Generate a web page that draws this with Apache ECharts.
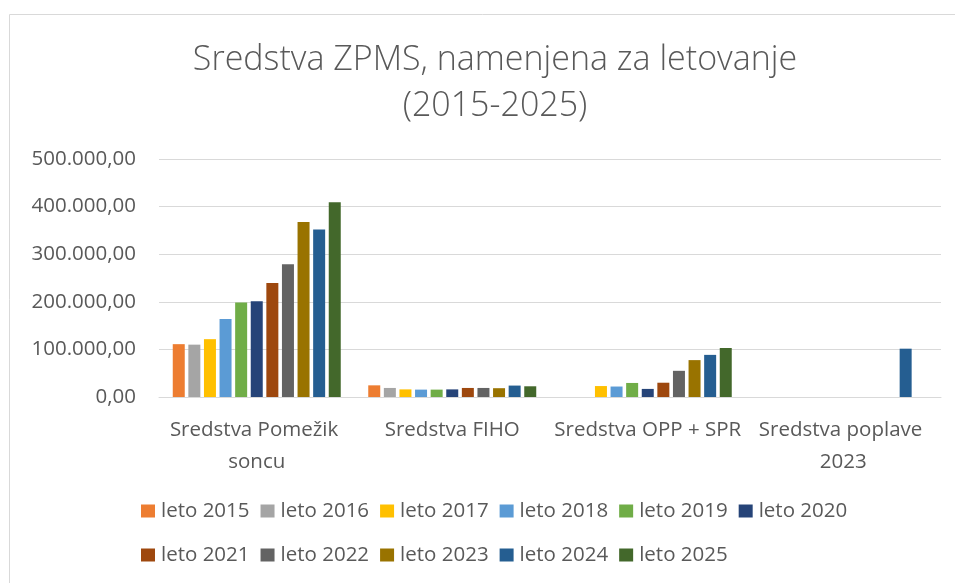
<!DOCTYPE html>
<html>
<head>
<meta charset="utf-8">
<script src="https://cdn.jsdelivr.net/npm/echarts@6/dist/echarts.min.js"></script>
<style>
  html, body { margin: 0; padding: 0; background: #fff; }
  #chart { width: 955px; height: 583px; }
</style>
</head>
<body>
<div id="chart"></div>
<script>
// categories + years
const categories = ['Sredstva Pomežik soncu', 'Sredstva FIHO', 'Sredstva OPP + SPR', 'Sredstva poplave 2023']
const years = ['leto 2015','leto 2016','leto 2017','leto 2018','leto 2019','leto 2020',
               'leto 2021','leto 2022','leto 2023','leto 2024','leto 2025']
const colors = ['#ED7D31','#A5A5A5','#FFC000','#5B9BD5','#70AD47','#264478',
                '#9E480E','#636363','#997300','#255E91','#43682B']

// values per category, one entry per year
const pomezik = [111000,110000,121500,164000,198500,201000,239500,279000,367500,352000,409000]
const fiho    = [24500,19000,16000,15500,15500,16000,19000,19000,18500,24000,22500]
const oppSpr  = [null,null,23000,22000,29500,17000,30000,55000,77500,88500,103000]
const poplave = [null,null,null,null,null,null,null,null,null,101500,null]

const yTicks = { min: 0, max: 500000, step: 100000 }

const font = '"Open Sans", "Noto Sans", sans-serif'
const txt = '#595959'

// 500000 -> 500.000,00
function fmt(v) {
  const s = String(Math.round(v)).replace(/\B(?=(\d{3})+(?!\d))/g, '.')
  return s + ',00'
}

const chart = echarts.init(document.getElementById('chart'))

const series = years.map((y, i) => ({
  name: y,
  type: 'bar',
  barWidth: 12,
  barGap: '30%',
  itemStyle: { color: colors[i] },
  data: [pomezik[i], fiho[i], oppSpr[i], poplave[i]]
}))

const legendBase = {
  left: 141,
  padding: 0,
  orient: 'horizontal',
  icon: 'rect',
  itemWidth: 14,
  itemHeight: 13,
  itemGap: 11,
  textStyle: { color: txt, fontFamily: font, fontSize: 20.5, lineHeight: 24, padding: [0, 0, 0, 1] }
}

chart.setOption({
  animation: false,
  color: colors,
  title: {
    text: 'Sredstva ZPMS, namenjena za letovanje\n(2015-2025)',
    left: 490,
    top: 32,
    textAlign: 'center',
    textStyle: {
      color: txt, fontFamily: font, fontSize: 34, fontWeight: 300, lineHeight: 46
    }
  },
  graphic: [{
    type: 'rect',
    shape: { x: 9.5, y: 14.5, width: 960, height: 600 },
    style: { fill: 'none', stroke: '#d9d9d9', lineWidth: 1 },
    silent: true
  }],
  legend: [
    Object.assign({}, legendBase, { top: 499, data: years.slice(0, 6) }),
    Object.assign({}, legendBase, { top: 543, data: years.slice(6) })
  ],
  grid: { left: 159, right: 14, top: 159, bottom: 186, containLabel: false },
  xAxis: {
    type: 'category',
    data: categories,
    axisLine: { lineStyle: { color: '#d9d9d9', width: 1 } },
    axisTick: { show: false },
    axisLabel: {
      color: txt, fontFamily: font, fontSize: 20.5, lineHeight: 32,
      margin: 17, width: 193, overflow: 'break', interval: 0
    }
  },
  yAxis: {
    type: 'value',
    min: yTicks.min,
    max: yTicks.max,
    interval: yTicks.step,
    axisLine: { show: false },
    axisTick: { show: false },
    splitLine: { lineStyle: { color: '#d9d9d9', width: 1 } },
    axisLabel: {
      color: txt, fontFamily: font, fontSize: 20.5, margin: 23,
      formatter: fmt
    }
  },
  series: series
})
</script>
</body>
</html>
